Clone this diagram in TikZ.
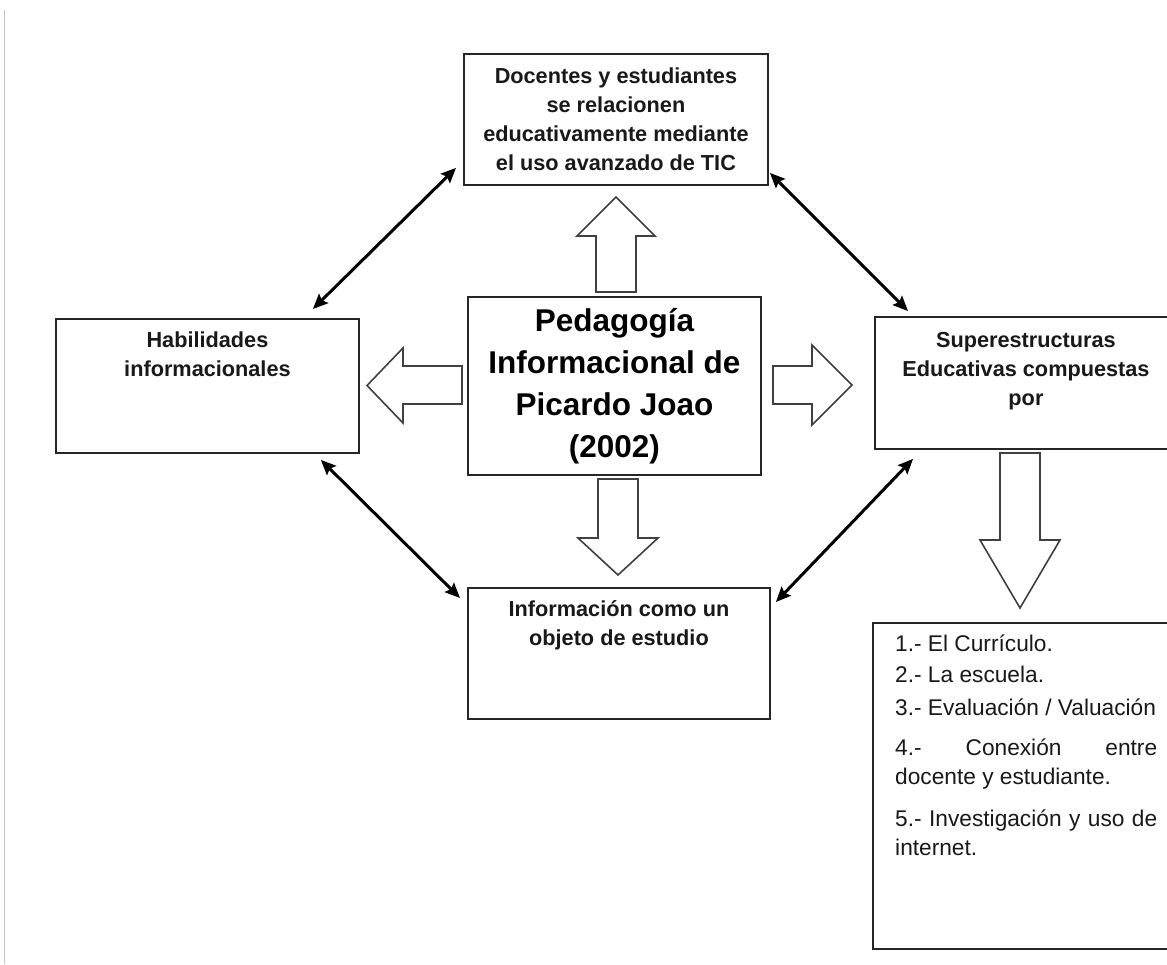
\documentclass[tikz,border=0pt]{standalone}
\usepackage{fontspec}
\setmainfont{Liberation Sans}
\usetikzlibrary{arrows.meta}
\begin{document}
\begin{tikzpicture}[x=1pt,y=-1pt,
  box/.style={draw=black!85, line width=1.9pt, inner sep=0pt, anchor=north west},
  btxt/.style={font=\fontsize{21.7}{29}\selectfont\bfseries, align=center, inner sep=0pt, text=black!90},
  bigtxt/.style={font=\fontsize{31.5}{42}\selectfont\bfseries, align=center, inner sep=0pt, text=black},
  itemtxt/.style={font=\fontsize{22.7}{29}\selectfont, align=justify, text width=262pt, inner sep=0pt, anchor=north west, text=black!90},
  barrow/.style={draw=black!75, line width=1.6pt, fill=white, line join=miter},
  link/.style={line width=3pt, black, {Stealth[length=15pt,width=13pt,inset=2.5pt]}-{Stealth[length=15pt,width=13pt,inset=2.5pt]}}
]
\useasboundingbox (0,0) rectangle (1167,964);
\fill[white] (0,0) rectangle (1167,964);
\draw[black!22, line width=1pt] (4,10) -- (4,964);

% boxes
\node[box, minimum width=304pt, minimum height=131pt] (T) at (463,53) {};
\node[btxt] (Ttxt) at (T.center) {Docentes y estudiantes\\se relacionen\\educativamente mediante\\el uso avanzado de TIC};

\node[box, minimum width=293pt, minimum height=178pt] (C) at (467,296) {};
\node[bigtxt] (Ctxt) at (C.center) {Pedagogía\\Informacional de\\Picardo Joao\\(2002)};

\node[box, minimum width=303pt, minimum height=134pt] (L) at (55,318) {};
\node[btxt, anchor=north] (Ltxt) at ([yshift=-14pt]L.north) {Habilidades\\informacionales};

\node[box, minimum width=302pt, minimum height=132pt] (R) at (874,316) {};
\node[btxt, anchor=north] (Rtxt) at ([yshift=-16pt]R.north) {Superestructuras\\Educativas compuestas\\por};

\node[box, minimum width=302pt, minimum height=131pt] (B) at (467,587) {};
\node[btxt, anchor=north] (Btxt) at ([yshift=-13pt]B.north) {Información como un\\objeto de estudio};

\node[box, minimum width=304pt, minimum height=326pt] (S) at (872,622) {};
\node[itemtxt] (i1) at (895,635) {\noindent 1.- El Currículo.};
\node[itemtxt] (i2) at (895,666) {\noindent 2.- La escuela.};
\node[itemtxt] (i3) at (895,699) {\noindent 3.- Evaluación / Valuación};
\node[itemtxt] (i4) at (895,739) {\noindent 4.- Conexión entre\linebreak docente y estudiante.};
\node[itemtxt] (i5) at (895,810) {\noindent 5.- Investigación y uso de internet.};

% block arrows
\draw[barrow] (596,292) -- (596,236) -- (577,236) -- (616,197) -- (655,236) -- (636,236) -- (636,292) -- cycle;
\draw[barrow] (598,479) -- (598,538) -- (578,538) -- (618,575) -- (658,538) -- (638,538) -- (638,479) -- cycle;
\draw[barrow] (462,366) -- (403,366) -- (403,348) -- (367,385.5) -- (403,423) -- (403,404) -- (462,404) -- cycle;
\draw[barrow] (773,366) -- (812,366) -- (812,345) -- (852,385) -- (812,425) -- (812,404) -- (773,404) -- cycle;
\draw[barrow] (1000,453) -- (1000,540) -- (980,540) -- (1020,608) -- (1060,540) -- (1040,540) -- (1040,453) -- cycle;

% double-headed connectors
\draw[link] ([shift={(-47,-9)}]L.north east) -- ([shift={(-7,-18)}]T.south west);
\draw[link] ([shift={(1,-13)}]T.south east) -- ([shift={(34,-5)}]R.north west);
\draw[link] ([shift={(-39,6)}]L.south east) -- ([shift={(-7,11)}]B.north west);
\draw[link] ([shift={(5,15)}]B.north east) -- ([shift={(39,9)}]R.south west);
\end{tikzpicture}
\end{document}
